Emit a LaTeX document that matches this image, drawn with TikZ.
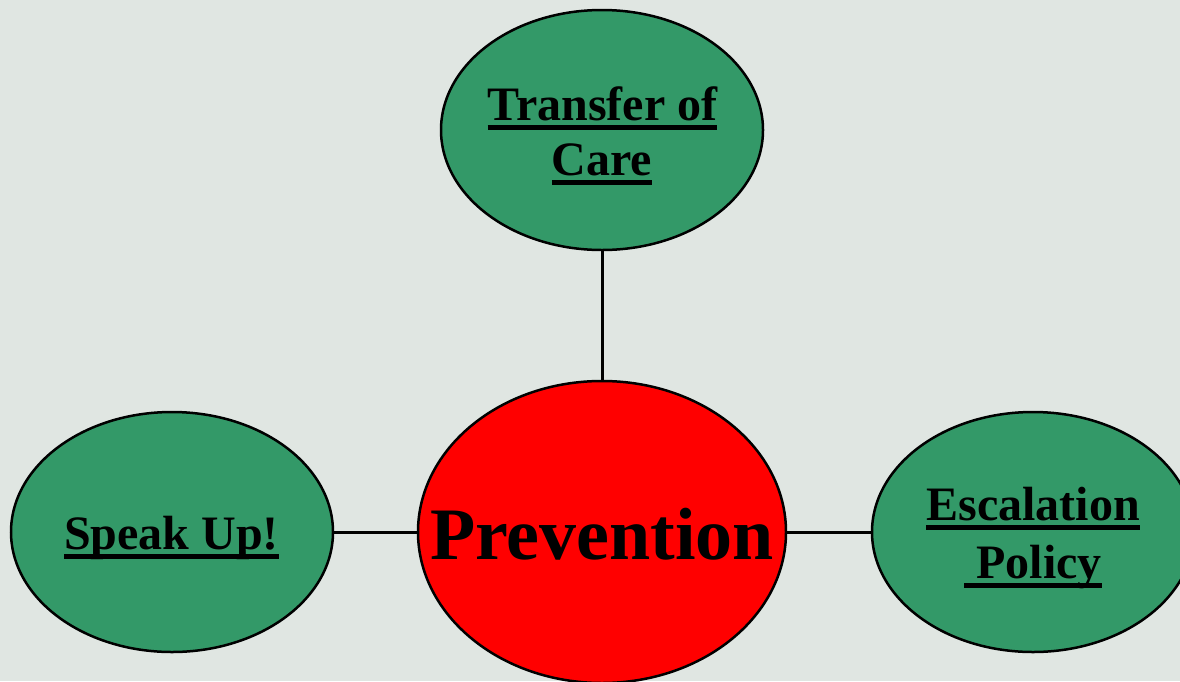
\documentclass[tikz,border=0pt]{standalone}
\usepackage{fontspec}
\setmainfont{Liberation Serif}
\usetikzlibrary{shapes.geometric}
\definecolor{bgcol}{RGB}{224,230,226}
\definecolor{leafgreen}{RGB}{51,153,104}
\definecolor{hubred}{RGB}{255,0,0}
% thick underline drawn below the text
\newcommand{\ulined}[1]{\setbox0\hbox{#1}\rlap{\smash{\rule[-9.5pt]{\wd0}{4.5pt}}}\box0}
\begin{document}
\begin{tikzpicture}[x=1pt,y=-1pt,
  oval/.style={ellipse,draw=black,line width=2.5pt,inner sep=0pt},
  leaf/.style={oval,fill=leafgreen,minimum width=322pt,minimum height=240pt},
  hub/.style={oval,fill=hubred,minimum width=368pt,minimum height=302pt},
  leaftext/.style={anchor=base,inner sep=0pt,font=\fontsize{48}{56}\selectfont\bfseries},
  hubtext/.style={anchor=base,inner sep=0pt,font=\fontsize{74}{80}\selectfont\bfseries},
  link/.style={draw=black,line width=3pt}]
\fill[bgcol] (0,0) rectangle (1180,681);
\useasboundingbox (0,0) rectangle (1180,681);
\clip (0,0) rectangle (1180,681);
% ovals
\node[hub] (prev) at (602,532) {};
\node[leaf] (care) at (602,130) {};
\node[leaf] (speak) at (172,532) {};
\node[leaf] (esc) at (1033,532) {};
% connectors
\draw[link] (care) -- (prev);
\draw[link] (speak) -- (prev);
\draw[link] (prev) -- (esc);
% labels
\node[hubtext] (prevT) at (602,559) {Prevention};
\node[leaftext] (careA) at (602.5,120) {\ulined{Transfer of}};
\node[leaftext] (careB) at (602,175) {\ulined{Care}};
\node[leaftext] (speakT) at (171.5,549) {\ulined{Speak Up!}};
\node[leaftext] (escA) at (1033,520) {\ulined{Escalation}};
\node[leaftext] (escB) at (1033,578) {\ulined{~Policy}};
\end{tikzpicture}
\end{document}
